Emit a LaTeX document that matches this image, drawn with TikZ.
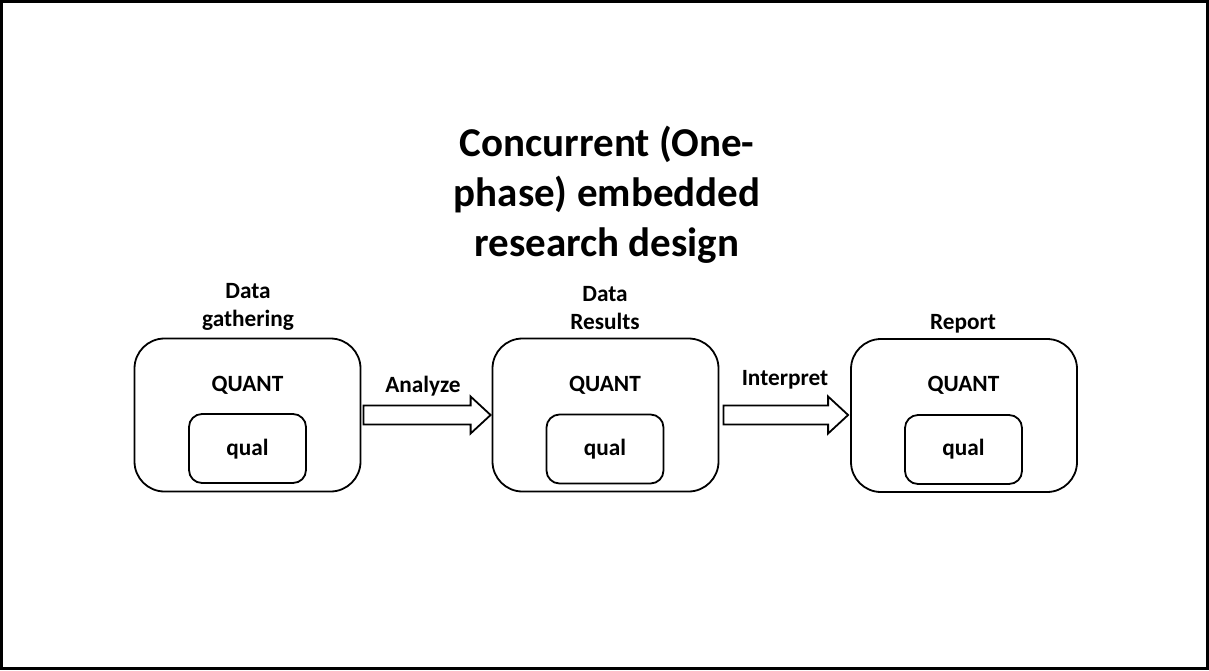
\documentclass[tikz,border=0pt]{standalone}
\usepackage{fontspec}
\setmainfont{Carlito}
\usetikzlibrary{calc}
\begin{document}
\begin{tikzpicture}[x=1pt,y=-1pt,
  every node/.style={font=\bfseries\fontsize{23.3}{28}\selectfont, inner sep=0pt},
  outerbox/.style={draw=black, line width=1.8pt, rounded corners=30pt, minimum width=226pt, minimum height=153pt},
  innerbox/.style={draw=black, line width=1.8pt, rounded corners=13pt, minimum width=117pt, minimum height=69pt},
  blockarrow/.style={draw=black, line width=1.8pt, fill=white, line join=miter},
  lbl/.style={align=center, anchor=base},
  title/.style={font=\bfseries\fontsize{41}{50}\selectfont, align=center, anchor=base}]
\useasboundingbox (0,0) rectangle (1209,670);
\draw[line width=2.6pt] (1.3,1.3) rectangle (1207.7,668.7);

\node[title] (ttl) at (607,256) {Concurrent (One-\\phase) embedded\\research design};

% boxes
\node[outerbox] (b1) at (247.5,415) {};
\node[outerbox] (b2) at (605.5,415) {};
\node[outerbox] (b3) at (964,415.5) {};
\node[innerbox] (q1) at (247.5,448.5) {};
\node[innerbox] (q2) at (605,449) {};
\node[innerbox] (q3) at (963.5,449.5) {};

\foreach \b/\x in {1/247.5,2/605,3/963.5}{
  \node[anchor=base] (qt\b) at (\x,391) {QUANT};
  \node[anchor=base] (ql\b) at (\x,455) {qual};
}

\node[lbl] (l1) at (248,326) {Data\\gathering};
\node[lbl] (l2) at (605,329) {Data\\Results};
\node[anchor=base] (l3) at (963,329) {Report};

% arrows
\coordinate (s1) at ($(b1.east)+(2,0)$);
\coordinate (t1) at ($(b2.west)+(-1,0)$);
\coordinate (s2) at ($(b2.east)+(4,0)$);
\coordinate (t2) at ($(b3.west)+(-2,-0.5)$);
\foreach \s/\t in {s1/t1,s2/t2}{
  \draw[blockarrow] ($(\s)+(0,-9.5)$) -- ($(\t)+(-20,-9.5)$) -- ($(\t)+(-20,-18.5)$) -- (\t)
    -- ($(\t)+(-20,18.5)$) -- ($(\t)+(-20,9.5)$) -- ($(\s)+(0,9.5)$) -- cycle;
}
\node[anchor=base] (a1) at (423,392) {Analyze};
\node[anchor=base] (a2) at (785,385) {Interpret};
\end{tikzpicture}
\end{document}
